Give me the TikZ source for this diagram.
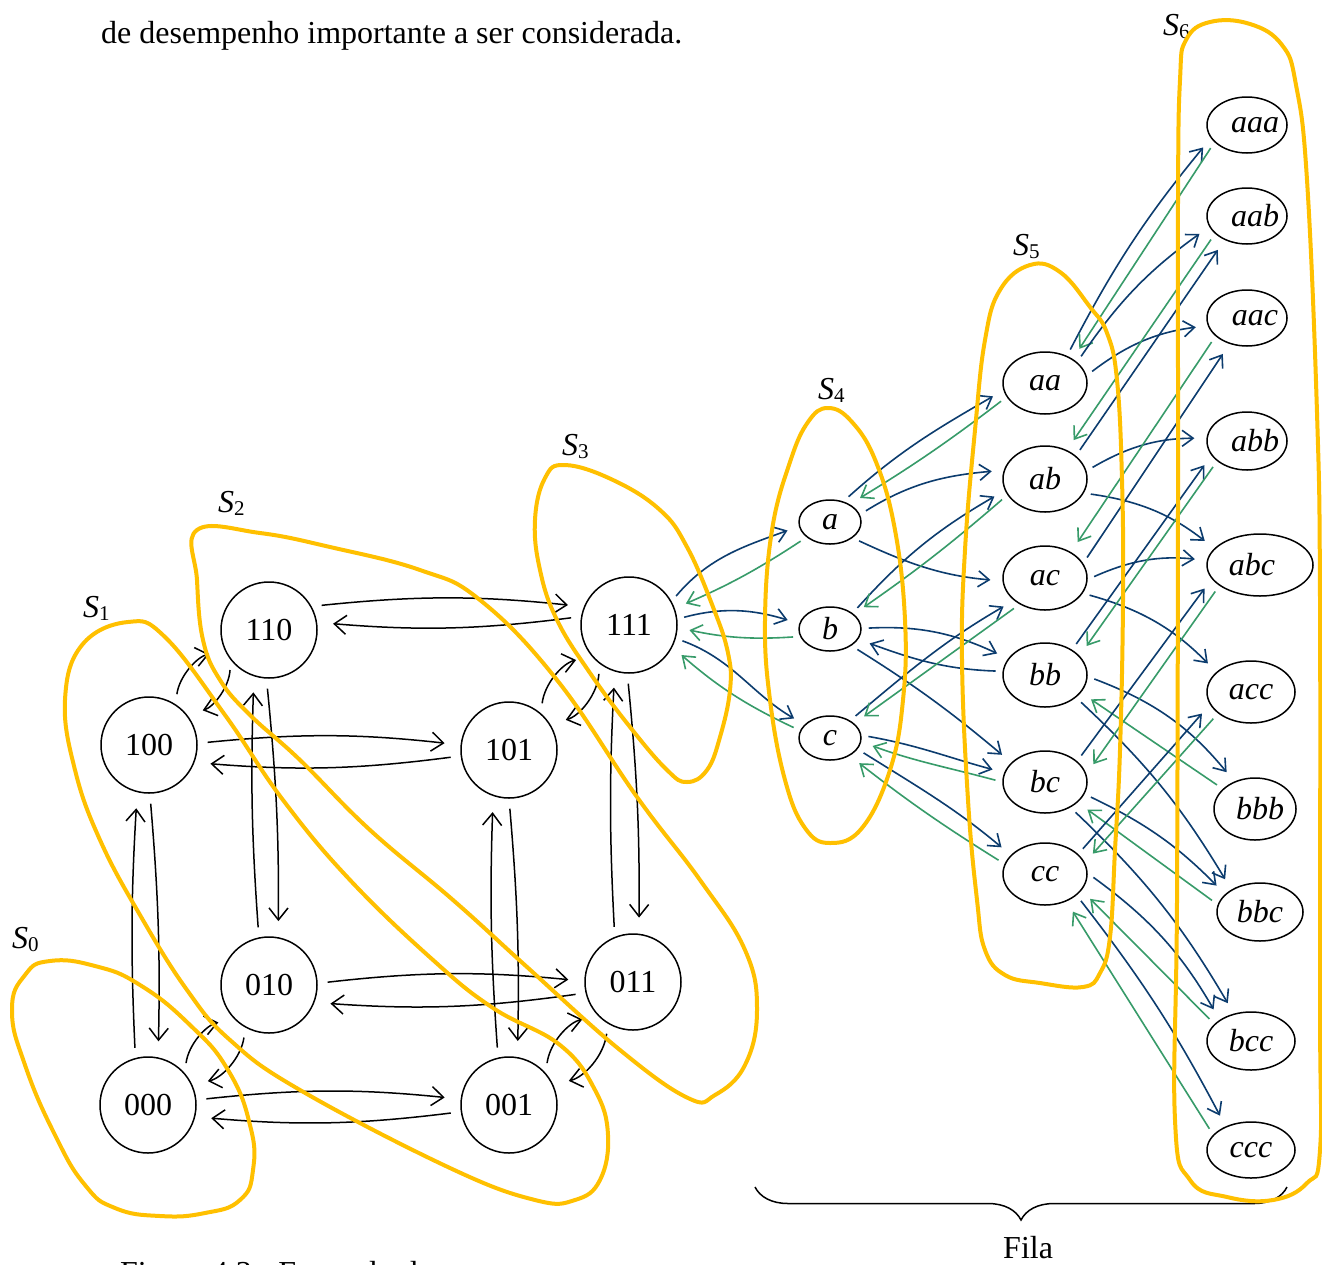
\documentclass[tikz,border=0pt]{standalone}
\usepackage{fontspec}
\setmainfont{Liberation Serif}
\usetikzlibrary{arrows.meta,shapes.geometric,decorations.pathreplacing}
\definecolor{gold}{HTML}{FFC000}
\definecolor{arrblue}{RGB}{12,60,110}
\definecolor{arrgreen}{RGB}{55,155,105}
\newcommand\shiftt[2]{\makebox[0pt]{\hspace{#1}#2}}
\newcommand\Slab[1]{\textit{S}\raisebox{-3pt}{\fontsize{21}{21}\selectfont #1}}
\begin{document}
\begin{tikzpicture}[x=1pt,y=-1pt,
  cnode/.style={circle,draw,line width=1.5pt,minimum size=96pt,inner sep=0pt,font=\fontsize{32}{32}\selectfont},
  enode/.style 2 args={ellipse,draw,line width=1.5pt,minimum width=#1pt,minimum height=#2pt,inner sep=0pt,font=\fontsize{32}{32}\selectfont\itshape},
  blk/.style={draw=black,line width=1.5pt,-{Straight Barb[length=12pt,width=19pt]},shorten <=10pt,shorten >=16pt},
  fwd/.style={draw=arrblue,line width=1.6pt,-{Straight Barb[length=11pt,width=16pt]},shorten <=7pt,shorten >=12pt},
  bwd/.style={draw=arrgreen,line width=1.6pt,-{Straight Barb[length=11pt,width=16pt]},shorten <=7pt,shorten >=12pt},
  blob/.style={draw=gold,line width=4pt},
  slab/.style={anchor=base west,inner sep=0pt,font=\fontsize{32}{32}\selectfont},
  txt/.style={anchor=base west,inner sep=0pt,font=\fontsize{32}{32}\selectfont}]
\useasboundingbox (0,0) rectangle (1322,1264);
\fill[white] (0,0) rectangle (1322,1264);

% texts
\node[txt] (top) at (101,43) {de desempenho importante a ser considerada.};
\node[txt] (cap) at (120,1283) {Figura 4.3 - Exemplo de};
\node[txt] (fila) at (1003,1258) {Fila};

% cube nodes
\node[cnode] (n100) at (149,745) {100};
\node[cnode] (n110) at (269,630) {110};
\node[cnode] (n000) at (148,1105) {000};
\node[cnode] (n010) at (269,985) {010};
\node[cnode] (n101) at (509,750) {101};
\node[cnode] (n111) at (629,625) {111};
\node[cnode] (n001) at (509,1105) {001};
\node[cnode] (n011) at (633,982) {011};

% S4
\node[enode={62}{44}] (a) at (830,522) {a};
\node[enode={62}{44}] (b) at (830,629) {b};
\node[enode={62}{44}] (c) at (830,738) {c};
% S5
\node[enode={84}{62}] (aa) at (1045,383) {aa};
\node[enode={84}{66}] (ab) at (1045,479) {ab};
\node[enode={84}{64}] (ac) at (1045,578) {ac};
\node[enode={84}{64}] (bb) at (1045,675) {bb};
\node[enode={84}{62}] (bc) at (1045,782) {bc};
\node[enode={84}{62}] (cc) at (1045,874) {cc};
% S6
\node[enode={80}{56}] (aaa) at (1247,125) {\shiftt{16pt}{aaa}};
\node[enode={80}{56}] (aab) at (1247,216) {\shiftt{16pt}{aab}};
\node[enode={80}{56}] (aac) at (1247,318) {\shiftt{16pt}{aac}};
\node[enode={80}{58}] (abb) at (1247,441) {\shiftt{16pt}{abb}};
\node[enode={106}{62}] (abc) at (1260,565) {\shiftt{-16pt}{abc}};
\node[enode={88}{62}] (acc) at (1251,692) {acc};
\node[enode={82}{62}] (bbb) at (1255,809) {\shiftt{10pt}{bbb}};
\node[enode={86}{58}] (bbc) at (1260,912) {bbc};
\node[enode={88}{58}] (bcc) at (1251,1041) {bcc};
\node[enode={88}{56}] (ccc) at (1251,1150) {ccc};

% S labels
\node[slab] (s0) at (12,948) {\Slab{0}};
\node[slab] (s1) at (83,617) {\Slab{1}};
\node[slab] (s2) at (218,512) {\Slab{2}};
\node[slab] (s3) at (562,455) {\Slab{3}};
\node[slab] (s4) at (818,399) {\Slab{4}};
\node[slab] (s5) at (1013,255) {\Slab{5}};
\node[slab] (s6) at (1163,35) {\Slab{6}};

% cube arrows
\draw[blk] (n110.29) to[bend left=6] (n111.158);
\draw[blk] (n111.170) to[bend left=6] (n110.9);
\draw[blk] (n100.2) to[bend left=6] (n101.174);
\draw[blk] (n101.187) to[bend left=6] (n100.339);
\draw[blk] (n010.2) to[bend left=6] (n011.179);
\draw[blk] (n011.193) to[bend left=6] (n010.339);
\draw[blk] (n000.6) to[bend left=6] (n001.173);
\draw[blk] (n001.188) to[bend left=6] (n000.346);
\draw[blk] (n000.105) to[bend left=3] (n100.256);
\draw[blk] (n100.271) to[bend left=3] (n000.78);
\draw[blk] (n010.102) to[bend left=3] (n110.252);
\draw[blk] (n110.267) to[bend left=3] (n010.79);
\draw[blk] (n001.103) to[bend left=3] (n101.251);
\draw[blk] (n101.270) to[bend left=3] (n001.80);
\draw[blk] (n011.112) to[bend left=3] (n111.253);
\draw[blk] (n111.268) to[bend left=3] (n011.83);
\draw[blk] (n100.57) to[bend left=35] (n110.205);
\draw[blk] (n110.218) to[bend left=35] (n100.38);
\draw[blk] (n101.49) to[bend left=35] (n111.220);
\draw[blk] (n111.233) to[bend left=35] (n101.32);
\draw[blk] (n000.41) to[bend left=35] (n010.224);
\draw[blk] (n010.241) to[bend left=35] (n000.25);
\draw[blk] (n001.41) to[bend left=35] (n011.224);
\draw[blk] (n011.239) to[bend left=35] (n001.25);

% 111 <-> S4
\draw[fwd] (n111.29) to[out=50,in=200] (a.188);
\draw[bwd] (a.213) to[bend left=5] (n111.20);
\draw[fwd] (n111.7) to[out=15,in=163] (b.170);
\draw[bwd] (b.194) to[bend left=8] (n111.357);
\draw[fwd] (n111.344) to[out=-20,in=150] (c.152);
\draw[bwd] (c.166) to[bend left=8] (n111.333);

% S4 <-> S5
\draw[fwd] (a.57) to[out=42,in=210] (aa.190);
\draw[bwd] (aa.200) to[bend left=3] (a.42);
\draw[fwd] (a.14) to[out=32,in=185] (ab.168);
\draw[fwd] (a.325) to[out=-25,in=175] (ac.184);
\draw[fwd] (b.35) to[out=48,in=210] (ab.196);
\draw[bwd] (ab.203) to[bend left=3] (b.32);
\draw[fwd] (b.1) to[out=3,in=155] (bb.156);
\draw[fwd] (bb.175) to[out=178,in=-20] (b.340);
\draw[fwd] (b.322) to[out=-32,in=140] (bc.150);
\draw[fwd] (c.41) to[out=40,in=210] (ac.216);
\draw[bwd] (ac.226) to (c.31);
\draw[fwd] (c.5) to[out=-10,in=165] (bc.167);
\draw[bwd] (bc.180) to[out=165,in=-20] (c.353);
\draw[fwd] (c.338) to[out=-32,in=140] (cc.151);
\draw[bwd] (cc.166) to[bend left=3] (c.318);

% S5 <-> S6
\draw[fwd] (aa.51) to[bend left=6] (aaa.200);
\draw[bwd] (aaa.208) to (aa.41);
\draw[fwd] (aa.33) to[bend left=10] (aab.196);
\draw[fwd] (aa.10) to[bend left=15] (aac.191);
\draw[fwd] (ab.37) to (aab.227);
\draw[bwd] (aab.209) to (ab.53);
\draw[fwd] (ab.11) to[bend left=15] (abb.176);
\draw[fwd] (ab.340) to[bend left=15] (abc.160);
\draw[fwd] (ac.21) to (aac.236);
\draw[bwd] (aac.210) to (ac.45);
\draw[fwd] (ac.358) to[bend left=15] (abc.175);
\draw[fwd] (ac.338) to[bend left=15] (acc.150);
\draw[fwd] (bb.43) to (abb.202);
\draw[bwd] (abb.214) to (bb.29);
\draw[fwd] (bb.358) to[bend left=15] (bbb.127);
\draw[bwd] (bbb.148) to (bb.334);
\draw[fwd] (bb.324) to[bend left=8] (bbc.142);
\draw[fwd] (bc.33) to (abc.196);
\draw[bwd] (abc.207) to (bc.11);
\draw[fwd] (bc.343) to[bend left=10] (bbc.153);
\draw[bwd] (bbc.170) to (bc.328);
\draw[fwd] (bc.315) to[bend left=8] (bcc.122);
\draw[fwd] (cc.31) to (acc.197);
\draw[bwd] (acc.213) to (cc.16);
\draw[fwd] (cc.1) to[bend left=12] (bcc.146);
\draw[bwd] (bcc.155) to (cc.336);
\draw[fwd] (cc.326) to[bend left=5] (ccc.137);
\draw[bwd] (ccc.158) to (cc.308);

% brace
\coordinate (bl) at (755,1187);
\coordinate (br) at (1287,1187);
\draw[line width=1.5pt,decorate,decoration={brace,mirror,amplitude=33pt}] (bl) -- (br);

% yellow sets
\draw[blob] plot[smooth cycle,tension=0.8] coordinates {(12,1010) (25,975) (50,961) (95,966) (140,985) (190,1025) (228,1070) (250,1125) (253,1170) (240,1200) (205,1213) (160,1216) (115,1208) (85,1185) (55,1135) (25,1065)};
\draw[blob] plot[smooth cycle,tension=0.7] coordinates {(128,622) (165,637) (225,715) (283,800) (350,880) (433,960) (493,1008) (560,1045) (595,1090) (608,1135) (600,1180) (575,1200) (535,1200) (450,1168) (300,1090) (230,1040) (187,990) (140,915) (100,840) (75,770) (65,700) (82,645)};
\draw[blob] plot[smooth cycle,tension=0.7] coordinates {(197,530) (260,533) (330,547) (420,570) (480,600) (557,680) (637,797) (700,880) (745,950) (757,1010) (745,1065) (715,1095) (688,1098) (620,1050) (527,967) (453,900) (370,830) (300,760) (250,715) (220,680) (203,640) (197,580)};
\draw[blob] plot[smooth cycle,tension=0.7] coordinates {(535,520) (545,478) (565,465) (613,480) (660,510) (687,547) (713,607) (728,653) (730,690) (720,737) (707,770) (687,782) (667,770) (630,727) (590,673) (557,620) (540,570)};
\draw[blob] plot[smooth cycle,tension=0.7] coordinates {(828,408) (852,422) (876,462) (895,530) (905,620) (903,700) (890,770) (862,828) (830,843) (805,828) (785,780) (770,700) (765,620) (772,530) (790,462) (808,422)};
\draw[blob] plot[smooth cycle,tension=0.7] coordinates {(1030,265) (1060,272) (1090,307) (1107,333) (1117,380) (1122,480) (1123,600) (1120,750) (1115,850) (1110,937) (1100,973) (1083,987) (1040,983) (1005,975) (985,950) (977,900) (968,800) (962,660) (965,550) (975,430) (985,340) (1000,290)};
\draw[blob] plot[smooth cycle,tension=0.7] coordinates {(1180,80) (1186,40) (1210,22) (1250,24) (1282,45) (1296,85) (1307,180) (1317,413) (1320,600) (1320,1000) (1320,1150) (1307,1183) (1273,1200) (1227,1197) (1190,1180) (1175,1120) (1177,900) (1178,500) (1178,200)};
\end{tikzpicture}
\end{document}
